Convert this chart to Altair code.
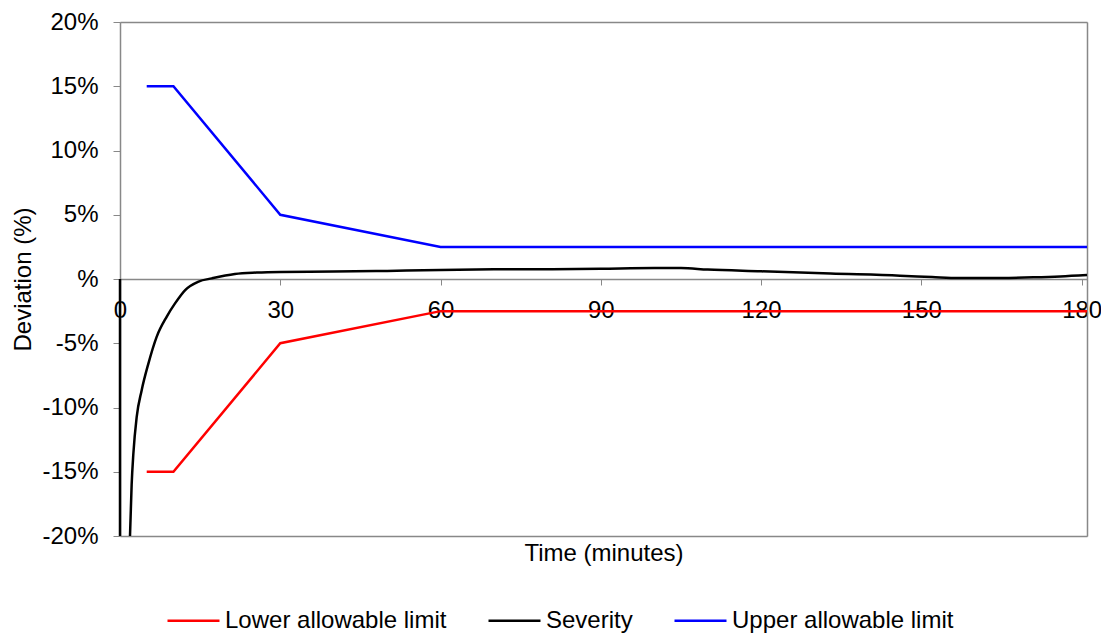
import altair as alt
import pandas as pd

# ---- data ----
series_names = ["Lower allowable limit", "Severity", "Upper allowable limit"]
series_colors = ["#FF0000", "#000000", "#0000FF"]

# severity: the drop at t=0 (visible part) and the recovery curve (visible part)
sev_drop_t = [0, 0]
sev_drop_v = [0, -20]
sev_t = [1.87, 2.18, 2.5, 3.12, 4.05, 5.3, 6.86, 8.73, 10.3, 12.2, 14.7, 17.2,
         21.5, 25.6, 30, 40, 50, 60, 70, 80, 90, 100, 105, 110, 120, 133, 146, 152,
         157, 165, 171, 176, 181]
sev_v = [-20, -16, -13.6, -10.75, -8.67, -6.6, -4.5, -2.94, -1.9, -0.86, -0.2, 0.05,
         0.39, 0.5, 0.55, 0.58, 0.63, 0.7, 0.75, 0.76, 0.8, 0.85, 0.85, 0.73, 0.6, 0.42, 0.26, 0.15,
         0.07, 0.08, 0.13, 0.2, 0.31]

lim_t = [5, 10, 30, 60, 181]
upper_v = [15, 15, 5, 2.5, 2.5]
lower_v = [-15, -15, -5, -2.5, -2.5]

x_ticks = [0, 30, 60, 90, 120, 150, 180]
y_ticks = [-20, -15, -10, -5, 0, 5, 10, 15, 20]

rows = []
for i, (t, v) in enumerate(zip(lim_t, lower_v)):
    rows.append({"series": series_names[0], "seg": "L", "t": t, "v": v, "idx": i})
for i, (t, v) in enumerate(zip(sev_drop_t, sev_drop_v)):
    rows.append({"series": series_names[1], "seg": "S0", "t": t, "v": v, "idx": i})
for i, (t, v) in enumerate(zip(lim_t, upper_v)):
    rows.append({"series": series_names[2], "seg": "U", "t": t, "v": v, "idx": i})
df = pd.DataFrame(rows)

df_curve = pd.DataFrame({"series": series_names[1], "t": sev_t, "v": sev_v,
                         "idx": list(range(len(sev_t)))})

FONT = "Liberation Sans"
GRAY = "#888888"
W, H = 967, 514

x_scale = alt.Scale(domain=[0, 181], nice=False, zero=False)
y_scale = alt.Scale(domain=[-20, 20], nice=False)
color_scale = alt.Scale(domain=series_names, range=series_colors)

lines = alt.Chart(df).mark_line(strokeWidth=2.5).encode(
    x=alt.X("t:Q", scale=x_scale,
            axis=alt.Axis(orient="bottom", values=x_ticks, title=None, offset=-H / 2,
                          grid=False, tickSize=6, tickColor=GRAY, domainColor=GRAY,
                          domainWidth=1.5, labelPadding=13, labelFontSize=24, labelFont=FONT,
                          labelColor="#000000", labelFlush=False, labelOverlap=False)),
    y=alt.Y("v:Q", scale=y_scale,
            axis=alt.Axis(orient="left", values=y_ticks, title="Deviation (%)", grid=False,
                          labelExpr="datum.value == 0 ? '%' : datum.value + '%'",
                          tickSize=7, tickColor=GRAY, domainColor=GRAY, domainWidth=1.5,
                          labelPadding=15, labelFontSize=24, labelFont=FONT,
                          labelColor="#000000", titleFontSize=24, titleFont=FONT,
                          titleFontWeight="normal", titleColor="#000000",
                          titlePadding=6, labelFlush=False)),
    color=alt.Color("series:N", scale=color_scale,
                    legend=alt.Legend(title=None, orient="none", direction="horizontal",
                                      legendX=46, legendY=571,
                                      symbolType="stroke", symbolSize=2704,
                                      symbolStrokeWidth=2.5, labelFontSize=24,
                                      labelFont=FONT, labelColor="#000000",
                                      labelLimit=400, columnPadding=36,
                                      labelOffset=4, padding=0)),
    detail="seg:N",
    order="idx:Q",
)

curve = alt.Chart(df_curve).mark_line(strokeWidth=2.5, interpolate="monotone").encode(
    x=alt.X("t:Q", scale=x_scale, axis=None),
    y=alt.Y("v:Q", scale=y_scale, axis=None),
    color=alt.Color("series:N", scale=color_scale, legend=None),
    order="idx:Q",
)

# bottom frame edge + x-axis title
bottom_layer = alt.Chart(df).mark_rule(opacity=0).encode(
    x=alt.X("t:Q", scale=x_scale,
            axis=alt.Axis(orient="bottom", title="Time (minutes)", labels=False, ticks=False,
                          domain=True, domainColor=GRAY, domainWidth=1.5,
                          grid=False, titleFontSize=24, titleFont=FONT,
                          titleFontWeight="normal", titleColor="#000000", titlePadding=5)),
)

# top and right frame edges
frame_layer = alt.Chart(df).mark_point(opacity=0).encode(
    x=alt.X("t:Q", scale=x_scale,
            axis=alt.Axis(orient="top", title=None, labels=False, ticks=False,
                          domain=True, domainColor=GRAY, domainWidth=1.5, grid=False)),
    y=alt.Y("v:Q", scale=y_scale,
            axis=alt.Axis(orient="right", title=None, labels=False, ticks=False,
                          domain=True, domainColor=GRAY, domainWidth=1.5, grid=False)),
)

chart = alt.layer(lines, curve, bottom_layer, frame_layer).resolve_axis(
    x="independent", y="independent"
).properties(
    width=W, height=H,
    autosize=alt.AutoSizeParams(type="none"),
    padding={"left": 112, "top": 14, "right": 14, "bottom": 100},
).configure_view(stroke=None).configure(background="white")

chart.save("out.html", embed_options={"renderer": "svg", "actions": False})
